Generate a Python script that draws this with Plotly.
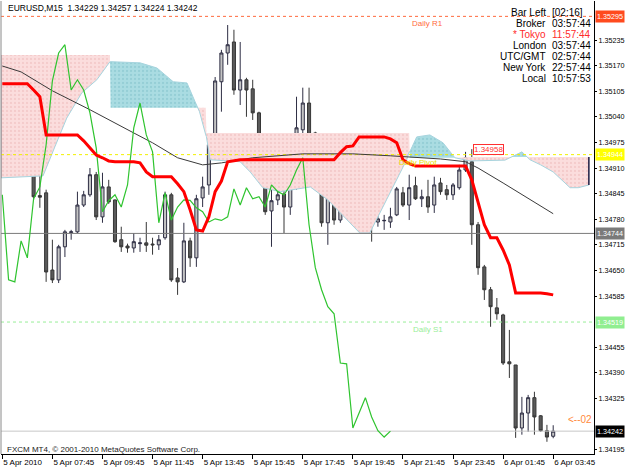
import plotly.graph_objects as go

# ---------------- data ----------------
symbol_header = "EURUSD,M15  1.34229 1.34257 1.34224 1.34242"
copyright_text = "FXCM MT4, \u00a9 2001-2010 MetaQuotes Software Corp."

bars = list(range(89))
opens = [1.35121, 1.35058, 1.35075, 1.35147, 1.35091, 1.34989, 1.34840, 1.34847, 1.34651, 1.34626,
         1.34710, 1.34746, 1.34748, 1.34816, 1.34842, 1.34893, 1.34786, 1.34862, 1.34829, 1.34728,
         1.34712, 1.34707, 1.34718, 1.34720, 1.34717, 1.34715, 1.34733, 1.34842, 1.34631, 1.34621,
         1.34725, 1.34682, 1.34834, 1.34867, 1.34969, 1.35129, 1.35202, 1.35230, 1.35108, 1.35134,
         1.35111, 1.35050, 1.34961, 1.34801, 1.34829, 1.34844, 1.34811, 1.34867, 1.35007, 1.35075,
         1.34999, 1.34959, 1.34771, 1.34847, 1.34778, 1.34814, 1.34829, 1.34832, 1.34811, 1.34799,
         1.34773, 1.34776, 1.34773, 1.34791, 1.34847, 1.34816, 1.34865, 1.34832, 1.34837, 1.34816,
         1.34872, 1.34855, 1.34842, 1.34860, 1.34905, 1.34926, 1.34766, 1.34659, 1.34601, 1.34555,
         1.34537, 1.34418, 1.34410, 1.34250, 1.34288, 1.34327, 1.34281, 1.34243, 1.34229]
highs = [1.35134, 1.35091, 1.35152, 1.35157, 1.35101, 1.34994, 1.34918, 1.34855, 1.34728, 1.34715,
         1.34753, 1.34753, 1.34850, 1.34852, 1.34910, 1.34900, 1.34898, 1.34880, 1.34830, 1.34761,
         1.34718, 1.34745, 1.34733, 1.34773, 1.34733, 1.34740, 1.34850, 1.34847, 1.34656, 1.34771,
         1.34733, 1.34842, 1.34888, 1.34976, 1.35141, 1.35210, 1.35273, 1.35261, 1.35230, 1.35139,
         1.35134, 1.35053, 1.34969, 1.34893, 1.34867, 1.34880, 1.34906, 1.35091, 1.35114, 1.35114,
         1.35002, 1.34994, 1.34867, 1.34862, 1.34829, 1.34847, 1.34847, 1.34837, 1.34824, 1.34799,
         1.34799, 1.34791, 1.34809, 1.34862, 1.34862, 1.34893, 1.34888, 1.34855, 1.34880, 1.34888,
         1.34885, 1.34867, 1.34872, 1.34918, 1.34951, 1.34958, 1.34773, 1.34664, 1.34608, 1.34580,
         1.34540, 1.34499, 1.34410, 1.34329, 1.34334, 1.34342, 1.34283, 1.34258, 1.34257]
lows = [1.35045, 1.35050, 1.35070, 1.35096, 1.34974, 1.34829, 1.34809, 1.34621, 1.34618, 1.34618,
        1.34684, 1.34728, 1.34745, 1.34811, 1.34837, 1.34778, 1.34771, 1.34819, 1.34720, 1.34697,
        1.34695, 1.34695, 1.34697, 1.34697, 1.34690, 1.34702, 1.34728, 1.34621, 1.34588, 1.34618,
        1.34659, 1.34659, 1.34811, 1.34842, 1.34956, 1.35053, 1.35172, 1.35096, 1.35070, 1.35040,
        1.35032, 1.34956, 1.34791, 1.34710, 1.34816, 1.34745, 1.34791, 1.34855, 1.34994, 1.34951,
        1.34931, 1.34761, 1.34715, 1.34766, 1.34771, 1.34786, 1.34799, 1.34786, 1.34786, 1.34723,
        1.34761, 1.34753, 1.34758, 1.34788, 1.34811, 1.34778, 1.34829, 1.34811, 1.34796, 1.34796,
        1.34842, 1.34829, 1.34829, 1.34855, 1.34900, 1.34715, 1.34639, 1.34575, 1.34507, 1.34525,
        1.34410, 1.34377, 1.34225, 1.34233, 1.34240, 1.34233, 1.34240, 1.34215, 1.34224]
closes = [1.35058, 1.35075, 1.35147, 1.35101, 1.34987, 1.34837, 1.34836, 1.34646, 1.34626, 1.34710,
          1.34748, 1.34748, 1.34816, 1.34842, 1.34893, 1.34786, 1.34862, 1.34824, 1.34723, 1.34710,
          1.34707, 1.34723, 1.34720, 1.34714, 1.34715, 1.34728, 1.34842, 1.34626, 1.34621, 1.34725,
          1.34682, 1.34832, 1.34862, 1.34969, 1.35131, 1.35202, 1.35223, 1.35108, 1.35134, 1.35108,
          1.35050, 1.34961, 1.34799, 1.34827, 1.34842, 1.34811, 1.34867, 1.35012, 1.35075, 1.34994,
          1.34951, 1.34771, 1.34847, 1.34778, 1.34811, 1.34829, 1.34828, 1.34809, 1.34799, 1.34773,
          1.34781, 1.34777, 1.34786, 1.34857, 1.34816, 1.34860, 1.34832, 1.34837, 1.34811, 1.34867,
          1.34850, 1.34842, 1.34867, 1.34905, 1.34936, 1.34766, 1.34657, 1.34601, 1.34558, 1.34540,
          1.34415, 1.34413, 1.34250, 1.34288, 1.34327, 1.34278, 1.34243, 1.34227, 1.34242]

# Kijun-sen (red)
kijun = ([1.35124] * 5 + [1.35108, 1.35091] + [1.34994] * 6 +
         [1.34979, 1.34961, 1.34943, 1.34936, 1.34928] + [1.34926] * 4 + [1.34923, 1.34900] +
         [1.34888] * 4 + [1.34870, 1.34850, 1.34804, 1.34753, 1.34750, 1.34786, 1.34850, 1.34877,
                          1.34926, 1.34928] +
         [1.34931] * 16 + [1.34949, 1.34964, 1.34966] + [1.34989] * 5 +
         [1.34984, 1.34974, 1.34931, 1.34921] + [1.34915] * 9 +
         [1.34880, 1.34822, 1.34766, 1.34733, 1.34733, 1.34702, 1.34664] + [1.34593] * 5 +
         [1.34591, 1.34588])

# moving average (thin dark line) vertices
ma_bars = [0, 3, 8, 14, 21, 24, 28, 32, 35, 40, 48, 56, 62, 70, 74, 76, 80, 84, 88]
ma_vals = [1.35169, 1.35154, 1.35106, 1.35058, 1.34999, 1.34974, 1.34936, 1.34918, 1.34923,
           1.34936, 1.34946, 1.34946, 1.34941, 1.34933, 1.34926, 1.34910, 1.34872, 1.34834, 1.34794]

chikou_shift = 26

# Ichimoku cloud (span A / span B) vertices
cloud_x = [-0.3, 6.5, 8.4, 10.3, 12.7, 15.1, 17.2, 17.3, 22, 24.7, 27.3, 29.5, 30.8, 31.5, 32.5,
           32.6, 33.2, 38, 39.6, 41.6, 44.4, 49.2, 52, 57.1, 58.7, 61.9, 64.6, 65.0, 65.1, 66.2,
           68.3, 70.4, 72.3, 74.7, 80.3, 83, 84.3, 86, 88, 90.7, 92, 93.7]
span_a = [1.34885, 1.34890, 1.34964, 1.35037, 1.35101, 1.35134, 1.35180, 1.35180, 1.35177, 1.35164,
          1.35129, 1.35126, 1.35078, 1.35053, 1.34994, 1.34990, 1.34931, 1.34926, 1.34900, 1.34860,
          1.34850, 1.34862, 1.34829, 1.34745, 1.34745, 1.34847, 1.34931, 1.34951, 1.34951, 1.34989,
          1.34994, 1.34974, 1.34936, 1.34928, 1.34930, 1.34951, 1.34931, 1.34918, 1.34900, 1.34860,
          1.34860, 1.34867]
span_b = [1.35197, 1.35197, 1.35197, 1.35197, 1.35197, 1.35197, 1.35197, 1.35063, 1.35063, 1.35063,
          1.35063, 1.35063, 1.35063, 1.35063, 1.35063, 1.34999, 1.34999, 1.34999, 1.34999, 1.34999,
          1.34999, 1.34999, 1.34999, 1.34999, 1.34999, 1.34999, 1.34999, 1.34999, 1.34936, 1.34936,
          1.34936, 1.34936, 1.34936, 1.34938, 1.34938, 1.34938, 1.34938, 1.34938, 1.34938, 1.34938,
          1.34938, 1.34938]

# horizontal levels
daily_r1 = 1.35295
daily_pivot = 1.34944
daily_s1 = 1.34519
hline_level = 1.34744
bid = 1.34242
high_mark = 1.34958
high_mark_bar = 75

price_ticks = [1.35235, 1.35170, 1.35105, 1.35040, 1.34975, 1.34910, 1.34845, 1.34780, 1.34715,
               1.34650, 1.34585, 1.34455, 1.34390, 1.34325, 1.34195]
time_tick_bars = [0, 8, 16, 24, 32, 40, 48, 56, 64, 72, 80, 88]
time_labels = ["5 Apr 2010", "5 Apr 07:45", "5 Apr 09:45", "5 Apr 11:45", "5 Apr 13:45",
               "5 Apr 15:45", "5 Apr 17:45", "5 Apr 19:45", "5 Apr 21:45", "5 Apr 23:45",
               "6 Apr 01:45", "6 Apr 03:45"]

clock_names = ["Bar Left", "Broker", "* Tokyo", "London", "UTC/GMT", "New York", "Local"]
clock_times = ["[02:16]", "03:57:44", "11:57:44", "03:57:44", "02:57:44", "22:57:44", "10:57:53"]
clock_colors = ["#000000", "#000000", "#FF2A2A", "#000000", "#000000", "#000000", "#000000"]

# ---------------- geometry ----------------
W, H = 625, 469
L, R, T, B = 1, 31, 1, 15
X_RANGE = [-0.21, 94.52]
Y_RANGE = [1.34184, 1.35334]
FONT = "Liberation Sans"
AX_FONT = 7.2


def px_x(px):
    return (px - L) / (W - L - R)


def px_y(py):
    return (H - B - py) / (H - T - B)


fig = go.Figure()

# ---------------- Ichimoku cloud ----------------
segments = []
cur = None
pts = []
for k in range(len(cloud_x)):
    kind = "blue" if span_a[k] > span_b[k] else "pink"
    if cur is None:
        cur = kind
        pts = [(cloud_x[k], span_a[k], span_b[k])]
        continue
    if kind != cur:
        x0, a0, b0 = cloud_x[k - 1], span_a[k - 1], span_b[k - 1]
        x1, a1, b1 = cloud_x[k], span_a[k], span_b[k]
        d0, d1 = a0 - b0, a1 - b1
        t = d0 / (d0 - d1)
        xc = x0 + t * (x1 - x0)
        yc = a0 + t * (a1 - a0)
        pts.append((xc, yc, yc))
        segments.append((cur, pts))
        cur = kind
        pts = [(xc, yc, yc)]
    pts.append((cloud_x[k], span_a[k], span_b[k]))
segments.append((cur, pts))

cloud_style = {
    "pink": dict(bg="#FBDDDD", fg="#EBB8B8"),
    "blue": dict(bg="#AADCE2", fg="#7FC0CA"),
}
for kind, p in segments:
    xs = [q[0] for q in p] + [q[0] for q in reversed(p)]
    ys = [q[1] for q in p] + [q[2] for q in reversed(p)]
    st = cloud_style[kind]
    fig.add_trace(go.Scatter(
        x=xs, y=ys, mode="lines", fill="toself", line=dict(width=0, color=st["bg"]),
        fillcolor=st["bg"],
        fillpattern=dict(shape=".", bgcolor=st["bg"], fgcolor=st["fg"], size=4, solidity=0.25),
        hoverinfo="skip"))

fig.add_trace(go.Scatter(x=cloud_x, y=span_a, mode="lines",
                         line=dict(color="#A6D4DE", width=1), hoverinfo="skip"))
# cloud end edges
for idx in (0, len(cloud_x) - 1):
    fig.add_trace(go.Scatter(x=[cloud_x[idx], cloud_x[idx]], y=[span_a[idx], span_b[idx]],
                             mode="lines", line=dict(color="#1A1A40", width=1.5),
                             hoverinfo="skip"))

# ---------------- horizontal levels ----------------
levels = [
    (daily_r1, "#FF6A3D", "dash"),
    (daily_pivot, "#F2F000", "dash"),
    (daily_s1, "#98EE98", "dash"),
    (hline_level, "#7A7A7A", "solid"),
    (bid, "#C8C8C8", "solid"),
]
for lvl, col, dash in levels:
    fig.add_trace(go.Scatter(x=X_RANGE, y=[lvl, lvl], mode="lines",
                             line=dict(color=col, width=1, dash="3px,3px" if dash == "dash" else None),
                             hoverinfo="skip"))

# ---------------- candles ----------------
fig.add_trace(go.Candlestick(
    x=bars, open=opens, high=highs, low=lows, close=closes,
    increasing=dict(fillcolor="#C4C4C4", line=dict(color="#2E2E44", width=1)),
    decreasing=dict(fillcolor="#5A5A5A", line=dict(color="#363636", width=1)),
    whiskerwidth=0, hoverinfo="skip"))

# ---------------- indicator lines ----------------
fig.add_trace(go.Scatter(x=ma_bars, y=ma_vals, mode="lines",
                         line=dict(color="#3A3A3A", width=1), hoverinfo="skip"))
chikou_x = bars[:len(bars) - chikou_shift]
chikou_y = closes[chikou_shift:]
fig.add_trace(go.Scatter(x=chikou_x, y=chikou_y, mode="lines",
                         line=dict(color="#2FC42F", width=1.2), hoverinfo="skip"))
fig.add_trace(go.Scatter(x=bars, y=kijun, mode="lines",
                         line=dict(color="#FF0000", width=3), hoverinfo="skip"))

# ---------------- annotations ----------------
ann = []
ann.append(dict(xref="paper", yref="paper", x=px_x(6), y=px_y(8), xanchor="left", yanchor="middle",
                text=symbol_header, showarrow=False, font=dict(family=FONT, size=8.5, color="#000")))
ann.append(dict(xref="paper", yref="paper", x=px_x(5), y=px_y(449), xanchor="left", yanchor="middle",
                text=copyright_text, showarrow=False, font=dict(family=FONT, size=8, color="#222")))

row_y0, row_dy = 12.5, 11.0
for i, (nm, tm, col) in enumerate(zip(clock_names, clock_times, clock_colors)):
    yy = px_y(row_y0 + i * row_dy)
    ann.append(dict(xref="paper", yref="paper", x=px_x(547), y=yy, xanchor="right",
                    yanchor="middle", text=nm, showarrow=False, borderpad=0,
                    font=dict(family=FONT, size=10, color=col)))
    ann.append(dict(xref="paper", yref="paper", x=px_x(551), y=yy, xanchor="left",
                    yanchor="middle", text=tm, showarrow=False, borderpad=0,
                    font=dict(family=FONT, size=10, color=col)))

# daily labels
ann.append(dict(x=65.1, y=daily_r1, xanchor="left", yanchor="top", yshift=-1, text="Daily R1",
                showarrow=False, font=dict(family=FONT, size=8, color="#FF6A3D")))
ann.append(dict(x=63.0, y=daily_pivot, xanchor="left", yanchor="top", yshift=-1, text="Daily Pivot",
                showarrow=False, font=dict(family=FONT, size=8, color="#E8E000")))
ann.append(dict(x=65.3, y=daily_s1, xanchor="left", yanchor="top", yshift=-1, text="Daily S1",
                showarrow=False, font=dict(family=FONT, size=8, color="#98EE98")))

# high mark label
ann.append(dict(x=high_mark_bar + 0.2, y=high_mark, xanchor="left", yanchor="middle",
                text=f"{high_mark:.5f}", showarrow=False, bgcolor="#FFFFFF", bordercolor="#FF3030",
                borderwidth=1, borderpad=0, font=dict(family=FONT, size=8, color="#FF3030")))

ann.append(dict(xref="paper", yref="paper", x=px_x(566), y=px_y(419), xanchor="left",
                yanchor="middle", text="<--02", showarrow=False,
                font=dict(family=FONT, size=10, color="#FF8A3C")))

# right axis price boxes
boxes = [(daily_r1, "#FF4A1E"), (daily_pivot, "#FFFF00"), (hline_level, "#7A7A7A"),
         (daily_s1, "#90EE90"), (bid, "#000000")]
for lvl, col in boxes:
    ann.append(dict(xref="paper", yref="y", x=1.0, y=lvl, xanchor="left", yanchor="middle",
                    xshift=1, text=f"{lvl:.5f}", showarrow=False, bgcolor=col, borderpad=1,
                    font=dict(family=FONT, size=AX_FONT, color="#FFFFFF")))

fig.update_layout(
    width=W, height=H, margin=dict(l=L, r=R, t=T, b=B, pad=0, autoexpand=False),
    paper_bgcolor="white", plot_bgcolor="white", showlegend=False,
    annotations=ann,
    xaxis=dict(range=X_RANGE, showgrid=False, zeroline=False, rangeslider=dict(visible=False),
               tickmode="array", tickvals=time_tick_bars, ticktext=time_labels, tickangle=0,
               automargin=False,
               ticks="outside", ticklen=4, tickcolor="#000", showline=True, linecolor="#000",
               linewidth=1, ticklabelposition="outside right",
               tickfont=dict(family=FONT, size=8, color="#000")),
    yaxis=dict(range=Y_RANGE, side="right", showgrid=False, zeroline=False, automargin=False,
               tickmode="array", tickvals=price_ticks, ticktext=[f"{p:.5f}" for p in price_ticks],
               ticks="outside", ticklen=2, tickcolor="#000", showline=True, linecolor="#000",
               linewidth=1, tickfont=dict(family=FONT, size=AX_FONT, color="#000")),
    shapes=[dict(type="line", xref="paper", yref="paper", x0=0, x1=0, y0=0, y1=1,
                 line=dict(color="#8A8A8A", width=1))],
)

fig.write_html("out.html")
